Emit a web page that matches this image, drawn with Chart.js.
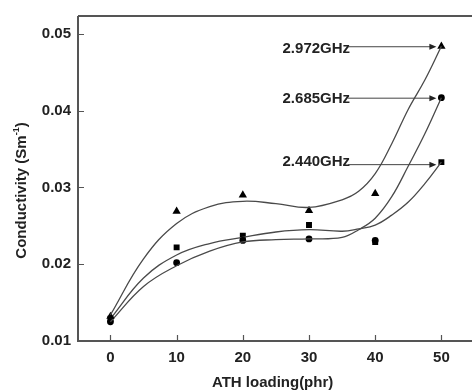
<!DOCTYPE html>
<html>
<head>
<meta charset="utf-8">
<script src="https://cdn.jsdelivr.net/npm/chart.js@4.4.1/dist/chart.umd.min.js"></script>
<style>
  html, body { margin: 0; padding: 0; background: #fff; }
  #wrap { width: 472px; height: 392px; }
</style>
</head>
<body>
<div id="wrap"><canvas id="cond"></canvas></div>
<script>
// measured points: ATH loading (phr) vs conductivity (S/m)
const loading = [0, 10, 20, 30, 40, 50];
const sigma2972 = [0.0132, 0.0269, 0.0290, 0.0270, 0.0292, 0.0484];
const sigma2685 = [0.0125, 0.0202, 0.0231, 0.0233, 0.0231, 0.0417];
const sigma2440 = [0.0129, 0.0222, 0.0237, 0.0251, 0.0229, 0.0333];

// fitted curves through each series
const fitX = [0, 5, 10, 15, 20, 25, 30, 35, 37.5, 40, 42.5, 45, 47.5, 50];
const fit2972 = [0.0134, 0.0207, 0.0253, 0.0275, 0.0282, 0.0279, 0.0274, 0.0284, 0.0295, 0.0318, 0.0357, 0.0402, 0.0440, 0.0484];
const fit2685 = [0.0125, 0.0171, 0.0198, 0.0217, 0.0229, 0.0232, 0.0233, 0.0235, 0.0245, 0.0260, 0.0288, 0.0328, 0.0370, 0.0417];
const fit2440 = [0.0129, 0.0182, 0.0212, 0.0227, 0.0235, 0.0242, 0.0245, 0.0243, 0.0246, 0.0251, 0.0264, 0.0281, 0.0305, 0.0333];

const freqLabels = ["2.972GHz", "2.685GHz", "2.440GHz"];
const xTicks = [0, 10, 20, 30, 40, 50];
const yTicks = [0.01, 0.02, 0.03, 0.04, 0.05];

const FONT = "'Liberation Sans', Arial, sans-serif";
const toPts = (xs, ys) => xs.map((x, i) => ({ x: x, y: ys[i] }));

const series = [
    { label: freqLabels[0], data: sigma2972, fit: fit2972, style: "triangle", r: 4.8 },
    { label: freqLabels[1], data: sigma2685, fit: fit2685, style: "circle", r: 3.4 },
    { label: freqLabels[2], data: sigma2440, fit: fit2440, style: "rect", r: 4.2 },
];

const datasets = [];
series.forEach((s) => {
    datasets.push({
        label: s.label + " fit",
        data: toPts(fitX, s.fit),
        showLine: true,
        tension: 0.4,
        borderColor: "#4a4a4a",
        borderWidth: 1.3,
        pointRadius: 0,
        fill: false,
    });
    datasets.push({
        label: s.label,
        data: toPts(loading, s.data),
        showLine: false,
        pointStyle: s.style,
        pointRadius: s.r,
        pointBackgroundColor: "#000",
        pointBorderColor: "#000",
        pointBorderWidth: 0,
    });
});

// axis frame with inward ticks (right side open)
const framePlugin = {
    id: "frame",
    beforeDatasetsDraw(chart) {
        const { ctx, chartArea: a, scales } = chart;
        ctx.save();
        ctx.strokeStyle = "#555";
        ctx.lineWidth = 2;
        ctx.beginPath();
        ctx.moveTo(a.left, a.top);
        ctx.lineTo(chart.width, a.top);
        ctx.moveTo(a.left, a.top);
        ctx.lineTo(a.left, a.bottom);
        ctx.lineTo(chart.width, a.bottom);
        ctx.stroke();
        ctx.lineWidth = 1.2;
        ctx.beginPath();
        xTicks.forEach((v) => {
            const px = Math.round(scales.x.getPixelForValue(v)) + 0.5;
            ctx.moveTo(px, a.bottom);
            ctx.lineTo(px, a.bottom - 6);
        });
        yTicks.forEach((v) => {
            const py = Math.round(scales.y.getPixelForValue(v)) + 0.5;
            ctx.moveTo(a.left, py);
            ctx.lineTo(a.left + 6, py);
        });
        ctx.stroke();
        ctx.restore();
    },
    afterDraw(chart) {
        const { ctx, chartArea: a } = chart;
        // y title with superscript
        ctx.save();
        ctx.translate(22, (a.top + a.bottom) / 2 + 12);
        ctx.rotate(-Math.PI / 2);
        ctx.fillStyle = "#222";
        ctx.textBaseline = "middle";
        const main = "Conductivity (Sm";
        ctx.font = "bold 15px " + FONT;
        const w1 = ctx.measureText(main).width;
        const w3 = ctx.measureText(")").width;
        ctx.font = "bold 9px " + FONT;
        const w2 = ctx.measureText("-1").width;
        let x0 = -(w1 + w2 + w3) / 2;
        ctx.font = "bold 15px " + FONT;
        ctx.fillText(main, x0, 0);
        ctx.font = "bold 9px " + FONT;
        ctx.fillText("-1", x0 + w1, -5);
        ctx.font = "bold 15px " + FONT;
        ctx.fillText(")", x0 + w1 + w2, 0);
        ctx.restore();
    },
};

// frequency labels with arrows pointing at the 50 phr points
const arrowPlugin = {
    id: "freqArrows",
    afterDatasetsDraw(chart) {
        const { ctx, scales } = chart;
        ctx.save();
        ctx.font = "bold 15px " + FONT;
        ctx.textBaseline = "middle";
        const textX = scales.x.getPixelForValue(26);
        const lastX = scales.x.getPixelForValue(loading[loading.length - 1]);
        const offs = [3, 1, -2];
        series.forEach((s, i) => {
            const py = scales.y.getPixelForValue(s.data[s.data.length - 1]) + (i === 2 ? 2 : 0);
            ctx.fillStyle = "#222";
            ctx.fillText(s.label, textX, py + offs[i]);
            const tx = textX + ctx.measureText(s.label).width - 2;
            const ex = lastX - 5;
            ctx.strokeStyle = "#444";
            ctx.lineWidth = 1;
            ctx.beginPath();
            ctx.moveTo(tx, py + 0.5);
            ctx.lineTo(ex - 6, py + 0.5);
            ctx.stroke();
            ctx.fillStyle = "#222";
            ctx.beginPath();
            ctx.moveTo(ex, py + 0.5);
            ctx.lineTo(ex - 7, py - 2.5);
            ctx.lineTo(ex - 7, py + 3.5);
            ctx.closePath();
            ctx.fill();
        });
        ctx.restore();
    },
};

new Chart(document.getElementById("cond"), {
    type: "scatter",
    data: { datasets: datasets },
    options: {
        responsive: true,
        maintainAspectRatio: false,
        animation: false,
        layout: { padding: { top: 15, right: 0, left: 0, bottom: 0 } },
        plugins: { legend: { display: false }, tooltip: { enabled: false } },
        scales: {
            x: {
                type: "linear",
                min: -4.9,
                max: 53.9,
                afterBuildTicks: (sc) => { sc.ticks = xTicks.map((v) => ({ value: v })); },
                afterFit: (sc) => { sc.height = 51; },
                grid: { display: false, drawTicks: false },
                border: { display: false },
                ticks: {
                    padding: 8,
                    color: "#222",
                    font: { family: FONT, size: 15, weight: "bold" },
                },
                title: {
                    display: true,
                    text: "ATH loading(phr)",
                    color: "#222",
                    padding: { top: 6, bottom: 0 },
                    font: { family: FONT, size: 15, weight: "bold" },
                },
            },
            y: {
                min: 0.01,
                max: 0.05234,
                afterBuildTicks: (sc) => { sc.ticks = yTicks.map((v) => ({ value: v })); },
                afterFit: (sc) => { sc.width = 78; },
                grid: { display: false, drawTicks: false },
                border: { display: false },
                ticks: {
                    padding: 7,
                    color: "#222",
                    font: { family: FONT, size: 15, weight: "bold" },
                    callback: (v) => v.toFixed(2),
                },
            },
        },
    },
    plugins: [framePlugin, arrowPlugin],
});
</script>
</body>
</html>
